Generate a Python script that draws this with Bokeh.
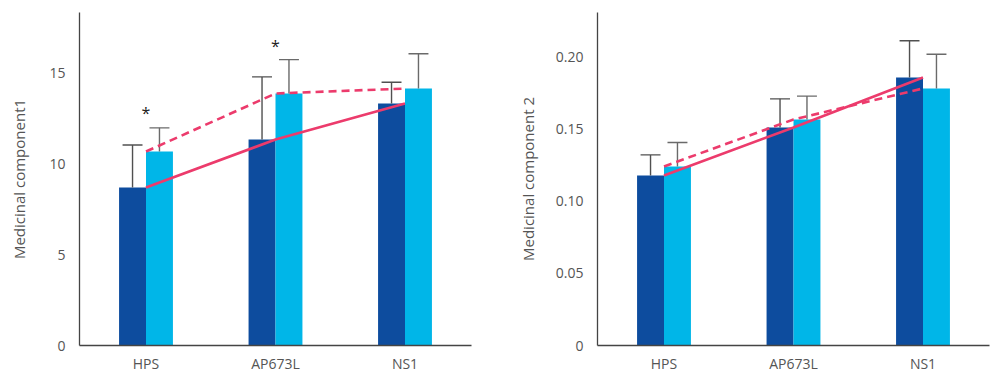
from bokeh.plotting import figure
from bokeh.models import ColumnDataSource, FactorRange, FixedTicker, Range1d, NumeralTickFormatter
from bokeh.transform import dodge
from bokeh.layouts import row
from bokeh.core.properties import value
from bokeh.embed import file_html
from bokeh.resources import INLINE

categories = ["HPS", "AP673L", "NS1"]

# Medicinal component 1
c1_dark = [8.68, 11.32, 13.30]
c1_dark_upper = [11.02, 14.76, 14.47]
c1_light = [10.66, 13.85, 14.12]
c1_light_upper = [11.96, 15.71, 16.03]
c1_star_cats = ["HPS", "AP673L"]
c1_star_y = [12.75, 16.45]
c1_ticks = [0, 5, 10, 15]
c1_label = "Medicinal component1"

# Medicinal component 2
c2_dark = [0.1177, 0.151, 0.1856]
c2_dark_upper = [0.132, 0.1708, 0.211]
c2_light = [0.124, 0.1565, 0.178]
c2_light_upper = [0.1406, 0.1727, 0.2017]
c2_star_cats = []
c2_star_y = []
c2_ticks = [0, 0.05, 0.10, 0.15, 0.20]
c2_label = "Medicinal component 2"

DARK = "#0D4C9E"
LIGHT = "#00B6E8"
PINK = "#EC3B6C"
AXIS = "#444444"
ERR_DARK = "#505050"
ERR_LIGHT = "#6A6A6A"
TEXT = "#555555"
FONT = "Open Sans"

BW = 0.208
CAP = 0.077


def make_chart(dark, dark_up, light, light_up, star_cats, star_y, ticks, ymax,
               label, mbl, mbr, label_standoff, fmt=None):
    p = figure(x_range=FactorRange(*categories, range_padding=0.009),
               y_range=Range1d(0, ymax), frame_width=392, frame_height=333,
               output_backend="svg", toolbar_location=None,
               min_border_left=mbl, min_border_right=mbr,
               min_border_top=12, min_border_bottom=0)
    src = ColumnDataSource(dict(cat=categories, dark=dark, dark_up=dark_up,
                                light=light, light_up=light_up))
    p.vbar(x=dodge("cat", -BW / 2, range=p.x_range), top="dark", width=BW,
           fill_color=DARK, line_color=None, source=src)
    p.vbar(x=dodge("cat", BW / 2, range=p.x_range), top="light", width=BW,
           fill_color=LIGHT, line_color=None, source=src)
    # error bars
    for off, lo, hi, col in [(-BW / 2, "dark", "dark_up", ERR_DARK),
                             (BW / 2, "light", "light_up", ERR_LIGHT)]:
        p.segment(x0=dodge("cat", off, range=p.x_range), y0=lo,
                  x1=dodge("cat", off, range=p.x_range), y1=hi,
                  line_color=col, line_width=1.4, source=src)
        p.segment(x0=dodge("cat", off - CAP, range=p.x_range), y0=hi,
                  x1=dodge("cat", off + CAP, range=p.x_range), y1=hi,
                  line_color=col, line_width=1.4, source=src)
    # trend lines
    p.line(x="cat", y="dark", line_color=PINK, line_width=2.6, source=src)
    p.line(x="cat", y="light", line_color=PINK, line_width=2.6,
           line_dash="8 5", source=src)
    if star_cats:
        p.text(x=star_cats, y=star_y, text=["*"] * len(star_cats),
               text_align="center", text_baseline="middle",
               text_font=value(FONT), text_font_size="16px", text_color="#222222")

    p.xgrid.visible = False
    p.ygrid.visible = False
    p.outline_line_color = None

    for ax in (p.xaxis[0], p.yaxis[0]):
        ax.axis_line_color = AXIS
        ax.axis_line_width = 1.3
        ax.major_tick_line_color = None
        ax.major_tick_out = 0
        ax.major_tick_in = 0
        ax.minor_tick_line_color = None
        ax.minor_tick_out = 0
        ax.major_label_text_font = FONT
        ax.major_label_text_font_size = "14px"
        ax.major_label_text_color = TEXT
    p.xaxis.major_label_standoff = 8
    p.yaxis.major_label_standoff = 14
    p.yaxis.ticker = FixedTicker(ticks=ticks)
    if fmt:
        p.yaxis.formatter = NumeralTickFormatter(format=fmt)
        p.yaxis.major_label_overrides = {0: "0"}
    p.yaxis.axis_label = label
    p.yaxis.axis_label_text_font = FONT
    p.yaxis.axis_label_text_font_size = "15px"
    p.yaxis.axis_label_text_font_style = "normal"
    p.yaxis.axis_label_text_color = TEXT
    p.yaxis.axis_label_standoff = label_standoff
    return p


p1 = make_chart(c1_dark, c1_dark_upper, c1_light, c1_light_upper, c1_star_cats,
                c1_star_y, c1_ticks, 18.3, c1_label, 79, 23, 17)
p2 = make_chart(c2_dark, c2_dark_upper, c2_light, c2_light_upper, c2_star_cats,
                c2_star_y, c2_ticks, 0.2306, c2_label, 103, 1, 15, fmt="0.00")

layout = row(p1, p2)
open("out.html", "w").write(file_html(layout, INLINE))
